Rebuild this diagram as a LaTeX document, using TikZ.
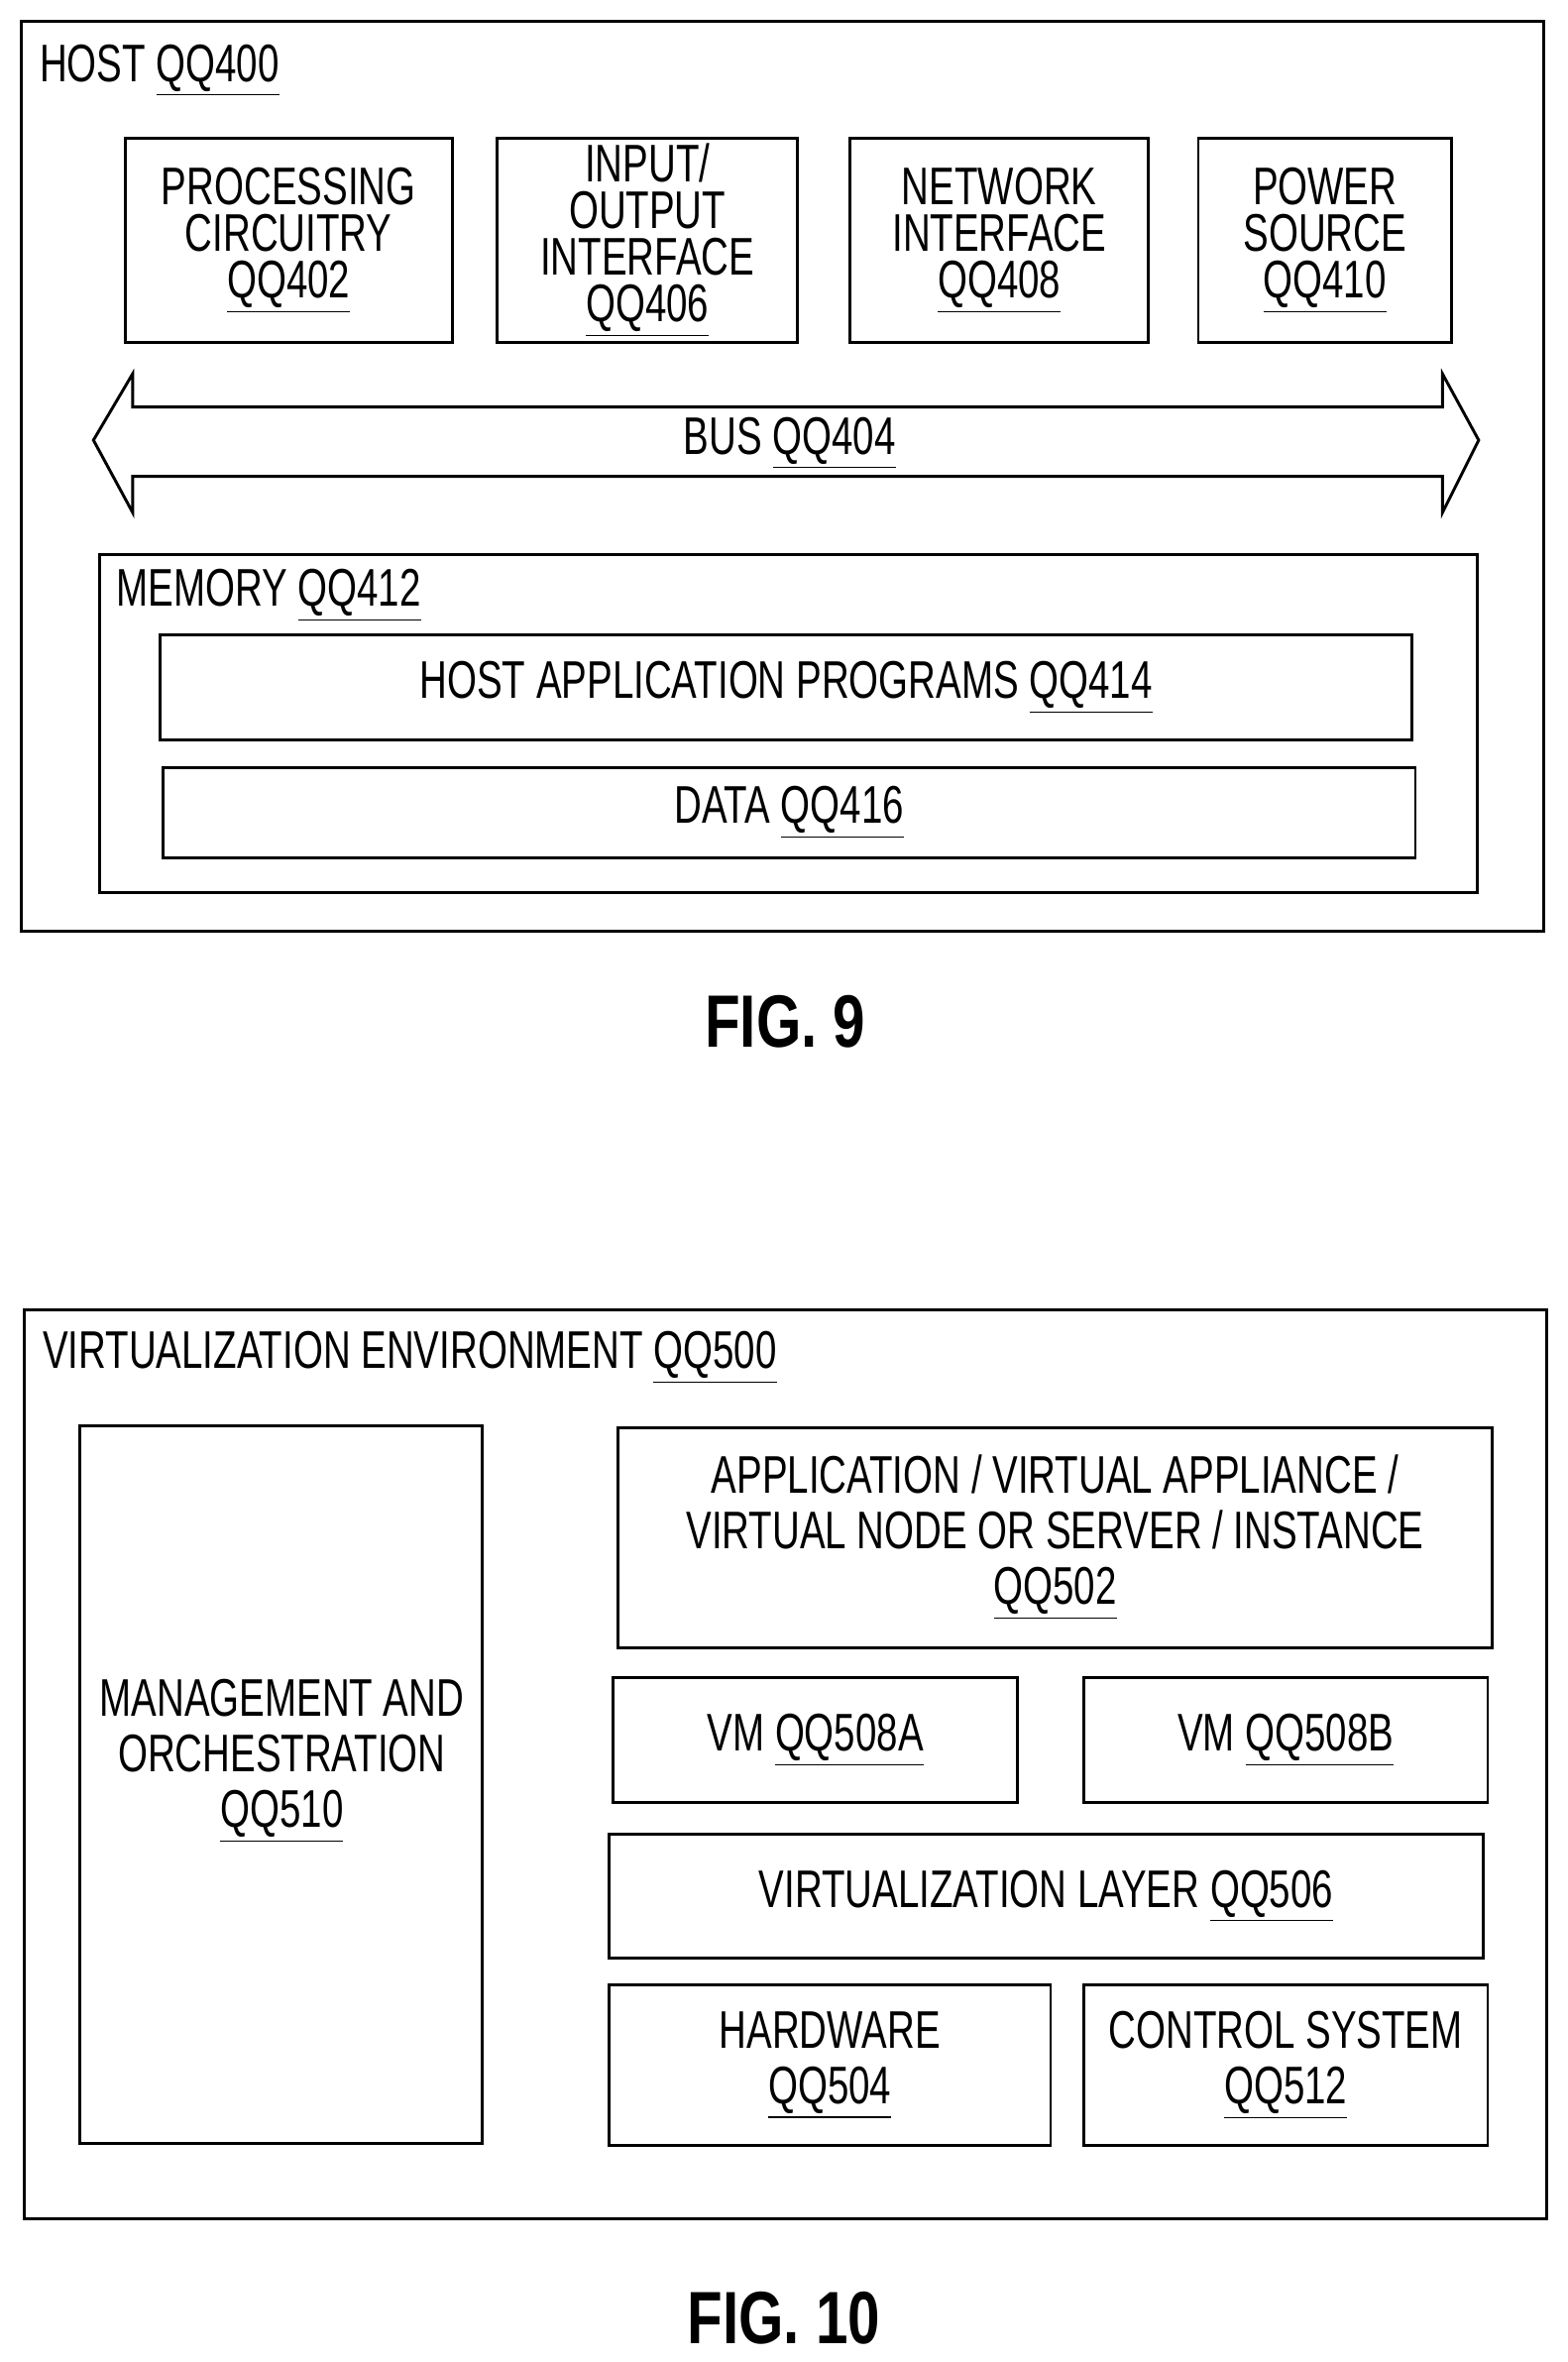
\documentclass[tikz,border=0pt]{standalone}
\usepackage{fontspec}
\setmainfont{Liberation Sans}[FakeStretch=0.72]
\newfontfamily\figfont{Liberation Sans}[FakeStretch=0.78]
\usetikzlibrary{fit}
\newcommand{\qq}[1]{\underline{#1}}
\tikzset{
  box/.style={draw, line width=1.1pt, inner sep=0pt},
  txt/.style={inner sep=0pt, align=center, font=\fontsize{20}{17.6pt}\selectfont},
  wide/.style={inner sep=0pt, align=center, font=\fontsize{20}{21pt}\selectfont},
  lbl/.style={anchor=base west, inner sep=0pt, font=\fontsize{20}{24}\selectfont},
  fig/.style={inner sep=0pt, font=\figfont\fontsize{28}{30}\selectfont\bfseries}
}
\begin{document}
\begin{tikzpicture}[x=0.02cm, y=-0.02cm]
	\useasboundingbox (0,0) rectangle (1040,1567);
	% FIG. 9 - host
	\node[box, fit={(14,14)(1024,618)}] (host) {};
	\node[lbl] (hostlbl) at (26,54) {HOST \qq{QQ400}};
	\node[box, fit={(83,92)(300,227)}] (proc) {};
	\node[txt] at (proc.center) {PROCESSING\\CIRCUITRY\\\qq{QQ402}};
	\node[box, fit={(330,92)(529,227)}] (io) {};
	\node[txt] at (io.center) {INPUT/\\OUTPUT\\INTERFACE\\\qq{QQ406}};
	\node[box, fit={(564,92)(762,227)}] (net) {};
	\node[txt] at (net.center) {NETWORK\\INTERFACE\\\qq{QQ408}};
	\node[box, fit={(795,92)(963,227)}] (power) {};
	\node[txt] at (power.center) {POWER\\SOURCE\\\qq{QQ410}};
	% bus arrow
	\draw[line width=1.1pt] (62,292) -- (88,248) -- (88,270) -- (957,270) -- (957,248)
		-- (981,292) -- (957,340) -- (957,316) -- (88,316) -- (88,340) -- cycle;
	\node[txt] (bus) at (524,294) {BUS \qq{QQ404}};
	\node[box, fit={(66,368)(980,592)}] (mem) {};
	\node[lbl] (memlbl) at (77,402) {MEMORY \qq{QQ412}};
	\node[box, fit={(106,421)(937,491)}] (apps) {};
	\node[txt] at (apps.center) {HOST APPLICATION PROGRAMS \qq{QQ414}};
	\node[box, fit={(108,509)(939,569)}] (data) {};
	\node[txt] at (data.center) {DATA \qq{QQ416}};
	\node[fig] (fig9) at (521,678) {FIG. 9};

	% FIG. 10 - virtualization
	\node[box, fit={(16,869)(1026,1472)}] (virt) {};
	\node[lbl] (virtlbl) at (28,908) {VIRTUALIZATION ENVIRONMENT \qq{QQ500}};
	\node[box, fit={(53,946)(320,1422)}] (mano) {};
	\node[wide] at (187,1168) {MANAGEMENT AND\\ORCHESTRATION\\\qq{QQ510}};
	\node[box, fit={(410,947)(990,1093)}] (app) {};
	\node[wide] at (app.center) {APPLICATION / VIRTUAL APPLIANCE /\\VIRTUAL NODE OR SERVER / INSTANCE\\\qq{QQ502}};
	\node[box, fit={(407,1113)(675,1196)}] (vma) {};
	\node[txt] at (vma.center) {VM \qq{QQ508A}};
	\node[box, fit={(719,1113)(987,1196)}] (vmb) {};
	\node[txt] at (vmb.center) {VM \qq{QQ508B}};
	\node[box, fit={(404,1217)(984,1299)}] (layer) {};
	\node[txt] at (layer.center) {VIRTUALIZATION LAYER \qq{QQ506}};
	\node[box, fit={(404,1317)(697,1423)}] (hw) {};
	\node[wide] at (hw.center) {HARDWARE\\\qq{QQ504}};
	\node[box, fit={(719,1317)(987,1423)}] (ctrl) {};
	\node[wide] at (ctrl.center) {CONTROL SYSTEM\\\qq{QQ512}};
	\node[fig] (fig10) at (520,1538) {FIG. 10};
\end{tikzpicture}
\end{document}
